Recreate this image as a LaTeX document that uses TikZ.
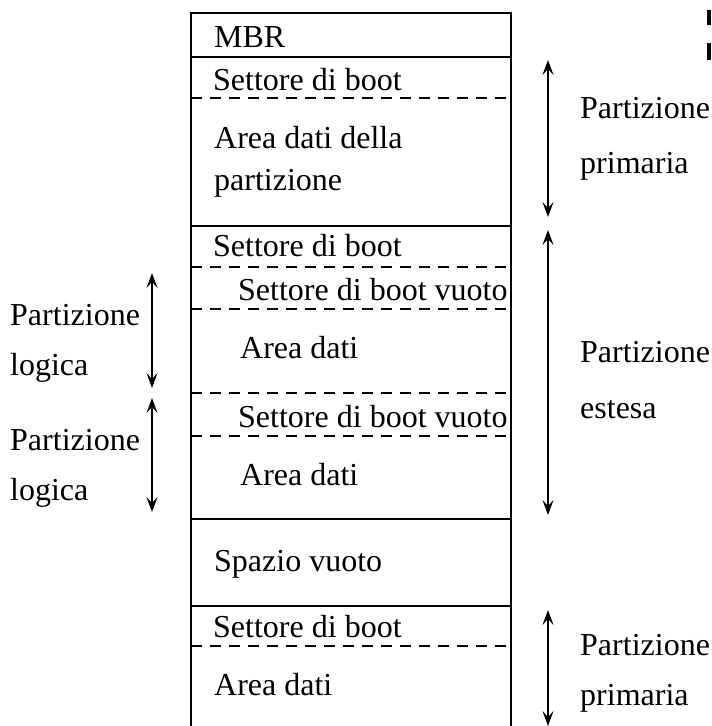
\documentclass[tikz,border=0pt]{standalone}
\usepackage{fontspec}
\setmainfont{Liberation Serif}
\usetikzlibrary{arrows.meta}
\begin{document}
\begin{tikzpicture}[x=1pt,y=-1pt,
  lbl/.style={anchor=base west, inner sep=0pt, font=\fontsize{32}{38}\selectfont},
  solidln/.style={line width=1.8pt},
  dashln/.style={line width=1.6pt, dash pattern=on 11pt off 8pt},
  dimarrow/.style={line width=1.8pt, {Stealth[length=15pt,width=11pt,inset=6pt]}-{Stealth[length=15pt,width=11pt,inset=6pt]}}]
\useasboundingbox (0,0) rectangle (712,726);
% box outline
\draw[solidln] (191,726) -- (191,13) -- (511,13) -- (511,726);
% solid separators
\draw[solidln] (191,57) -- (511,57);
\draw[solidln] (191,226) -- (511,226);
\draw[solidln] (191,519) -- (511,519);
\draw[solidln] (191,606) -- (511,606);
% dashed separators
\draw[dashln] (191,98) -- (511,98);
\draw[dashln] (191,267) -- (511,267);
\draw[dashln] (191,309) -- (511,309);
\draw[dashln] (191,393) -- (511,393);
\draw[dashln] (191,436) -- (511,436);
\draw[dashln] (191,646) -- (511,646);
% box texts
\node[lbl] (mbr) at (214,47) {MBR};
\node[lbl] (sb1) at (213,90) {Settore di boot};
\node[lbl] (ad1a) at (214,148) {Area dati della};
\node[lbl] (ad1b) at (214,190) {partizione};
\node[lbl] (sb2) at (213,256) {Settore di boot};
\node[lbl] (sv1) at (238,300) {Settore di boot vuoto};
\node[lbl] (ad2) at (240,358) {Area dati};
\node[lbl] (sv2) at (238,427) {Settore di boot vuoto};
\node[lbl] (ad3) at (240,485) {Area dati};
\node[lbl] (spv) at (214,571) {Spazio vuoto};
\node[lbl] (sb3) at (213,637) {Settore di boot};
\node[lbl] (ad4) at (214,695) {Area dati};
% right dimension arrows
\coordinate (r1t) at (548,60);
\coordinate (r1b) at (548,217);
\coordinate (r2t) at (548,230);
\coordinate (r2b) at (548,515);
\coordinate (r3t) at (548,610);
\coordinate (r3b) at (548,726);
\draw[dimarrow] (r1t) -- (r1b);
\draw[dimarrow] (r2t) -- (r2b);
\draw[dimarrow] (r3t) -- (r3b);
% left dimension arrows
\coordinate (l1t) at (152,273);
\coordinate (l1b) at (152,388);
\coordinate (l2t) at (152,398);
\coordinate (l2b) at (152,512);
\draw[dimarrow] (l1t) -- (l1b);
\draw[dimarrow] (l2t) -- (l2b);
% right labels
\node[lbl] (rp1a) at (580,118) {Partizione};
\node[lbl] (rp1b) at (580,173) {primaria};
\node[lbl] (rp2a) at (580,362) {Partizione};
\node[lbl] (rp2b) at (580,418) {estesa};
\node[lbl] (rp3a) at (580,655) {Partizione};
\node[lbl] (rp3b) at (580,705) {primaria};
% left labels
\node[lbl] (lp1a) at (10,325) {Partizione};
\node[lbl] (lp1b) at (10,375) {logica};
\node[lbl] (lp2a) at (10,450) {Partizione};
\node[lbl] (lp2b) at (10,500) {logica};
% clipped marks at top right
\fill (707,10) rectangle (711,25);
\fill (707,43) rectangle (711,60);
\end{tikzpicture}
\end{document}
